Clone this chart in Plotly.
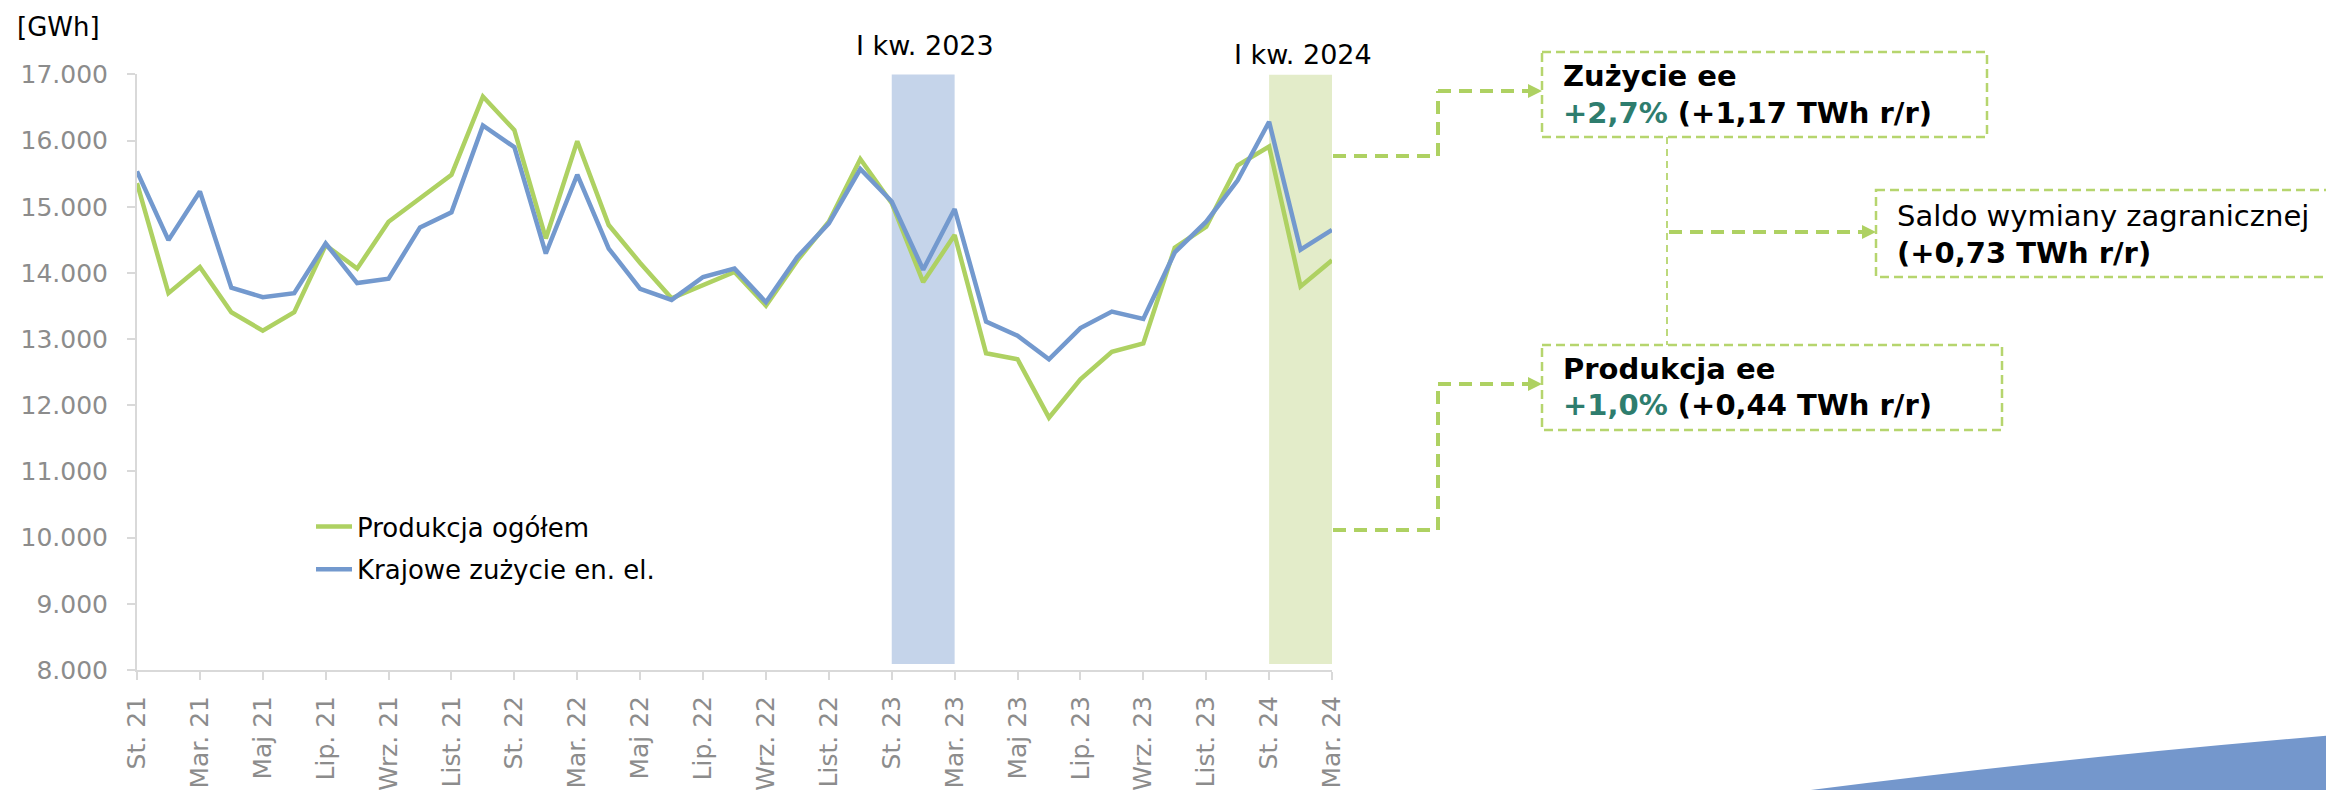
import plotly.graph_objects as go

# ---------------- data ----------------
months = ["St. 21", "Lut. 21", "Mar. 21", "Kw. 21", "Maj 21", "Cz. 21", "Lip. 21", "Sie. 21",
          "Wrz. 21", "Paź. 21", "List. 21", "Gr. 21",
          "St. 22", "Lut. 22", "Mar. 22", "Kw. 22", "Maj 22", "Cz. 22", "Lip. 22", "Sie. 22",
          "Wrz. 22", "Paź. 22", "List. 22", "Gr. 22",
          "St. 23", "Lut. 23", "Mar. 23", "Kw. 23", "Maj 23", "Cz. 23", "Lip. 23", "Sie. 23",
          "Wrz. 23", "Paź. 23", "List. 23", "Gr. 23",
          "St. 24", "Lut. 24", "Mar. 24"]

produkcja = [15357, 13695, 14090, 13406, 13127, 13406, 14420, 14065, 14774, 15129, 15484, 16665,
             16158, 14521, 15991, 14724, 14151, 13618, 13811, 14014, 13507, 14190, 14774, 15722,
             15053, 13862, 14572, 12787, 12696, 11813, 12392, 12807, 12934, 14380, 14700, 15625,
             15910, 13796, 14191]

zuzycie = [15535, 14496, 15231, 13776, 13634, 13695, 14445, 13847, 13913, 14688, 14916, 16229,
           15900, 14293, 15484, 14369, 13760, 13593, 13938, 14065, 13558, 14242, 14749, 15570,
           15080, 14049, 14966, 13264, 13051, 12696, 13167, 13416, 13304, 14310, 14775, 15400,
           16285, 14350, 14650]

series_names = ["Produkcja ogółem", "Krajowe zużycie en. el."]
y_tickvals = [8000, 9000, 10000, 11000, 12000, 13000, 14000, 15000, 16000, 17000]
y_ticktext = ["8.000", "9.000", "10.000", "11.000", "12.000", "13.000", "14.000", "15.000", "16.000", "17.000"]
x_tickvals = months[::2]

band_2023 = ("St. 23", "Mar. 23")
band_2024 = ("St. 24", "Mar. 24")
band_labels = ["I kw. 2023", "I kw. 2024"]
band_y = (8090, 17015)

# ---------------- styling ----------------
WIN_W, WIN_H = 2334, 790
OFF = 8  # default page body margin
W, H = WIN_W - OFF, WIN_H - OFF
FONT = "DejaVu Sans"
GREEN = "#AED162"
BLUE = "#7399CE"
BOX_GREEN = "#B6D56E"
TEAL = "#2E7D6E"
GREY = "#8C8C8C"
AXIS = "#D9D9D9"


def px(x):
    return (x - OFF) / W


def py(y):
    return 1 - (y - OFF) / H


fig = go.Figure()
fig.add_trace(go.Scatter(x=months, y=produkcja, mode="lines", name=series_names[0],
                         legendgroup="a", line=dict(color=GREEN, width=4.5)))
fig.add_trace(go.Scatter(x=months, y=zuzycie, mode="lines", name=series_names[1],
                         legendgroup="b", line=dict(color=BLUE, width=4.5)))

shapes = []
# quarter bands (data coordinates)
shapes.append(dict(type="rect", xref="x", yref="y", x0=band_2023[0], x1=band_2023[1],
                   y0=band_y[0], y1=band_y[1], fillcolor="#C5D4EA", line=dict(width=0), layer="below"))
shapes.append(dict(type="rect", xref="x", yref="y", x0=band_2024[0], x1=band_2024[1],
                   y0=band_y[0], y1=band_y[1] - 15, fillcolor="#E3ECC9", line=dict(width=0), layer="below"))

thick = dict(color=GREEN, width=4, dash="13px,8px")
thin = dict(color=BOX_GREEN, width=1.8, dash="7px,5px")
box = dict(color=BOX_GREEN, width=2.5, dash="9px,5px")


def pline(x0, y0, x1, y1, line):
    shapes.append(dict(type="line", xref="paper", yref="paper", x0=px(x0), y0=py(y0),
                       x1=px(x1), y1=py(y1), line=line))


def arrow(xt, yt, w=14, h=7):
    path = f"M {px(xt)},{py(yt)} L {px(xt - w)},{py(yt - h)} L {px(xt - w)},{py(yt + h)} Z"
    shapes.append(dict(type="path", xref="paper", yref="paper", path=path,
                       fillcolor=GREEN, line=dict(width=0)))


def prect(x0, y0, x1, y1):
    shapes.append(dict(type="rect", xref="paper", yref="paper", x0=px(x0), y0=py(y0),
                       x1=px(x1), y1=py(y1), line=box, fillcolor="rgba(0,0,0,0)"))


# connector to "Zużycie ee"
pline(1333, 156, 1438, 156, thick)
pline(1438, 156, 1438, 91, thick)
pline(1438, 91, 1528, 91, thick)
arrow(1542, 91)
# connector to "Produkcja ee"
pline(1333, 530, 1438, 530, thick)
pline(1438, 530, 1438, 384, thick)
pline(1438, 384, 1528, 384, thick)
arrow(1542, 384)
# thin link between boxes + branch to saldo
pline(1667, 137, 1667, 345, thin)
pline(1669, 232, 1862, 232, thick)
arrow(1876, 232)
# boxes
prect(1542, 52, 1987, 137)
prect(1876, 190, 2350, 277)
prect(1542, 345, 2002, 430)

# decorative blue wedge bottom right
shapes.append(dict(type="path", xref="paper", yref="paper",
                   path=f"M {px(1803)},{py(791)} Q {px(2060)},{py(758)} {px(2335)},{py(735)} L {px(2335)},{py(791)} Z",
                   fillcolor="#7497CC", line=dict(width=0)))

annotations = []


def ptext(x, y, text, size=29, anchor="left", color="black"):
    annotations.append(dict(x=px(x), y=py(y), xref="paper", yref="paper", text=text,
                            showarrow=False, xanchor=anchor, yanchor="middle",
                            font=dict(family=FONT, size=size, color=color)))


ptext(15, 27, "[GWh]", size=26)
ptext(925, 46, band_labels[0], size=27, anchor="center")
ptext(1303, 55, band_labels[1], size=27, anchor="center")

ptext(1561, 76, "<b>Zużycie ee</b>")
ptext(1561, 113, f"<b><span style='color:{TEAL}'>+2,7%</span> (+1,17 TWh r/r)</b>")
ptext(1895, 216, "Saldo wymiany zagranicznej")
ptext(1895, 253, "<b>(+0,73 TWh r/r)</b>")
ptext(1561, 369, "<b>Produkcja ee</b>")
ptext(1561, 405, f"<b><span style='color:{TEAL}'>+1,0%</span> (+0,44 TWh r/r)</b>")

fig.update_layout(
    width=W, height=H,
    margin=dict(l=0, r=0, t=0, b=0, autoexpand=False),
    paper_bgcolor="white", plot_bgcolor="white",
    font=dict(family=FONT, size=25, color="black"),
    showlegend=True,
    legend=dict(x=px(311), y=py(503), xanchor="left", yanchor="top",
                font=dict(family=FONT, size=26, color="black"),
                bgcolor="rgba(0,0,0,0)", tracegroupgap=6, itemwidth=36),
    shapes=shapes,
    annotations=annotations,
    hovermode=False,
)

fig.update_xaxes(
    type="category", domain=[px(137), px(1332)], range=[0, len(months) - 1],
    tickmode="array", tickvals=x_tickvals, ticktext=x_tickvals, tickangle=-90,
    tickfont=dict(family=FONT, size=25, color=GREY),
    showline=True, linecolor=AXIS, linewidth=2,
    ticks="outside", ticklen=8, tickcolor=AXIS, tickwidth=2,
    showgrid=False, zeroline=False, ticklabelstandoff=6, automargin=False,
)
fig.update_yaxes(
    domain=[py(670), py(74.4)], range=[8000, 17000],
    tickmode="array", tickvals=y_tickvals, ticktext=y_ticktext,
    tickfont=dict(family=FONT, size=25, color=GREY),
    showline=True, linecolor=AXIS, linewidth=2,
    ticks="outside", ticklen=8, tickcolor=AXIS, tickwidth=2,
    showgrid=False, zeroline=False, ticklabelstandoff=14, automargin=False,
)

fig.write_html("out.html")
